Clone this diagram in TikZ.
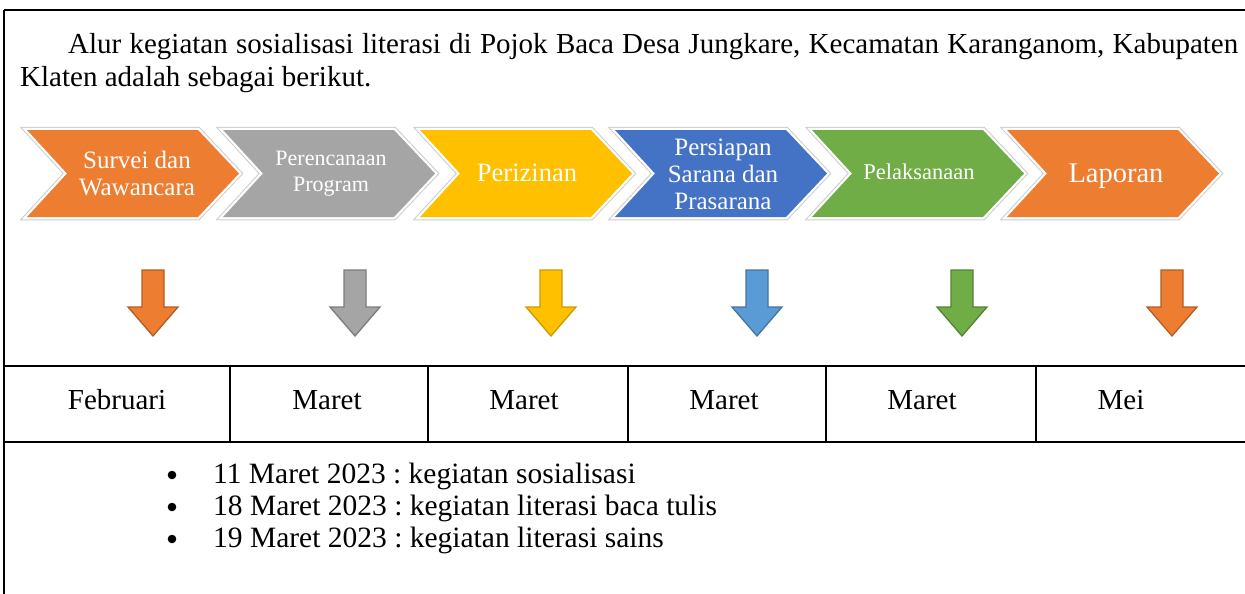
\documentclass[tikz,border=0pt]{standalone}
\usepackage{fontspec}
\setmainfont{Liberation Serif}
\definecolor{corange}{HTML}{ED7D31}
\definecolor{cgray}{HTML}{A5A5A5}
\definecolor{cyellow}{HTML}{FFC000}
\definecolor{cblue}{HTML}{4472C4}
\definecolor{cgreen}{HTML}{70AD47}
\definecolor{clblue}{HTML}{5B9BD5}
\newcommand{\chevpath}[1]{(#1,130) -- (#1+171,130) -- (#1+212,173.5) -- (#1+171,217) -- (#1,217) -- (#1+40,173.5) -- cycle}
\newcommand{\chev}[2]{%
  \draw[draw=black!20,line width=6.5pt] \chevpath{#1};
  \draw[draw=white,line width=4.5pt] \chevpath{#1};
  \fill[#2] \chevpath{#1};}
\newcommand{\darrow}[3]{%
  \filldraw[fill=#2,draw=#3,line width=1.3pt,line join=miter] (#1-11,270) -- (#1+11,270) -- (#1+11,307) -- (#1+25,307) -- (#1,336) -- (#1-25,307) -- (#1-11,307) -- cycle;}
\tikzset{
  body/.style={inner sep=0pt,font=\fontsize{29}{33}\selectfont\frenchspacing},
  bul/.style={inner sep=0pt,font=\fontsize{29.5}{33}\selectfont\frenchspacing},
  chevtext/.style={text=white,align=center,inner sep=0pt},
}
\begin{document}
\begin{tikzpicture}[x=1pt,y=-1pt]
\useasboundingbox (0,0) rectangle (1245,594);
\fill[white] (0,0) rectangle (1245,594);
% frame
\draw[line width=2pt] (4,10.5) -- (1245,10.5);
\draw[line width=1.3pt] (4,10) -- (4,594);
\draw[line width=2pt] (4,366) -- (1245,366);
\draw[line width=2pt] (4,442) -- (1245,442);
\foreach \x in {230,428,628,826,1036} \draw[line width=1.3pt] (\x,366) -- (\x,442);
% header
\node[body,anchor=base west] (h1) at (68,54) {\makebox[1170pt][s]{Alur kegiatan sosialisasi literasi di Pojok Baca Desa Jungkare, Kecamatan Karanganom, Kabupaten}};
\node[body,anchor=base west] (h2) at (20,87) {Klaten adalah sebagai berikut.};
% chevrons
\chev{27}{corange}
\chev{223}{cgray}
\chev{420}{cyellow}
\chev{615}{cblue}
\chev{812}{cgreen}
\chev{1007}{corange}
\node[chevtext,font=\fontsize{25}{27}\selectfont] (c1) at (137,174) {Survei dan\\Wawancara};
\node[chevtext,font=\fontsize{22}{26}\selectfont] (c2) at (331,174) {Perencanaan\\Program};
\node[chevtext,font=\fontsize{26.5}{30}\selectfont] (c3) at (527,173) {Perizinan};
\node[chevtext,font=\fontsize{25}{27}\selectfont] (c4) at (723,174) {Persiapan\\Sarana dan\\Prasarana};
\node[chevtext,font=\fontsize{22.5}{26}\selectfont] (c5) at (919,172) {Pelaksanaan};
\node[chevtext,font=\fontsize{28.5}{30}\selectfont] (c6) at (1116,176) {Laporan};
% arrows
\darrow{153}{corange}{corange!75!black}
\darrow{355}{cgray}{cgray!75!black}
\darrow{551}{cyellow}{cyellow!80!black}
\darrow{757}{clblue}{clblue!75!black}
\darrow{962}{cgreen}{cgreen!75!black}
\darrow{1172}{corange}{corange!75!black}
% months
\node[body,anchor=base] (m1) at (117,409) {Februari};
\node[body,anchor=base] (m2) at (327,409) {Maret};
\node[body,anchor=base] (m3) at (524,409) {Maret};
\node[body,anchor=base] (m4) at (724,409) {Maret};
\node[body,anchor=base] (m5) at (922,409) {Maret};
\node[body,anchor=base] (m6) at (1121,409) {Mei};
% bullets
\foreach \y/\t [count=\i] in {483/{11 Maret 2023 : kegiatan sosialisasi},515/{18 Maret 2023 : kegiatan literasi baca tulis},547/{19 Maret 2023 : kegiatan literasi sains}} {
  \fill (172,\y-8) circle (4.3);
  \node[bul,anchor=base west] (b\i) at (213,\y) {\t};
}
\end{tikzpicture}
\end{document}
